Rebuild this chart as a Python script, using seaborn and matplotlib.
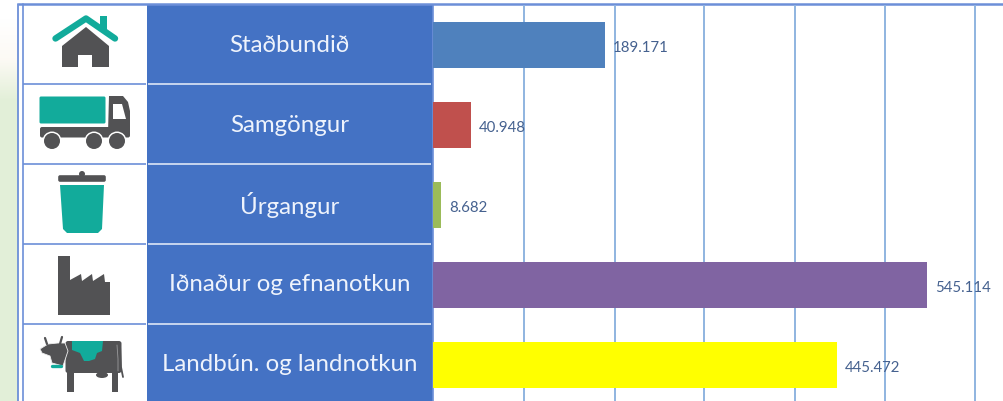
# plot.py - losun eftir flokkum, bars with icon table on the left
import numpy as np
import pandas as pd
import seaborn as sns
import matplotlib.pyplot as plt
from matplotlib.patches import Polygon, Rectangle, Circle, Ellipse, FancyBboxPatch

categories = ['Staðbundið', 'Samgöngur', 'Úrgangur', 'Iðnaður og efnanotkun', 'Landbún. og landnotkun']
values = [189.171, 40.948, 8.682, 545.114, 445.472]
bar_colors = ['#4f81bd', '#c0504d', '#9bbb59', '#8064a2', '#ffff00']
grid_ticks = [100, 200, 299, 399, 498.5, 598]

TEAL = '#12ab9b'
GRAY = '#525254'
BLUE = '#4472c4'
FRAME = '#6c8fd8'
GRID = '#8fb4e0'

sns.set_theme(style='white')
plt.rcParams['font.family'] = ['Lato', 'DejaVu Sans']

fig = plt.figure(figsize=(10.04, 4.02), dpi=100)

# overlay in pixel coordinates for the table and icons
bg = fig.add_axes([0, 0, 1, 1])
bg.axis('off')

# pale green strip on the left, fades out at the top
green = [0.89, 0.94, 0.85]
strip = np.array([[1, 1, 1], [0.99, 0.98, 0.96], green, green, green,
                  green, green, green, green, green])
bg.imshow(strip[:, None, :], extent=[0, 18, 402, 0], aspect='auto', interpolation='bilinear')
bg.set_xlim(0, 1004)
bg.set_ylim(402, 0)

# table
bg.add_patch(Rectangle((147, 6), 286, 396, color=BLUE, lw=0))
bg.plot([18, 1004], [5, 5], color=FRAME, lw=1.8, solid_capstyle='butt')
bg.plot([18.5, 18.5], [5, 402], color=FRAME, lw=1.3)
bg.plot([22.7, 22.7], [5, 402], color=FRAME, lw=1.2)
row_h = 80
for i in range(1, 5):
    y = 4.5 + row_h * i
    bg.plot([23, 146], [y, y], color=FRAME, lw=1.2, solid_capstyle='butt')
    bg.plot([148, 431], [y, y], color='#dde6f6', lw=1.2, solid_capstyle='butt')
for i, name in enumerate(categories):
    bg.text(289.5, 45 + row_h * i, name, color='#eef3fc', fontsize=17.3, ha='center', va='center')

# house
bg.add_patch(Polygon([(62, 68), (62, 47), (86, 28), (109, 47), (109, 68), (92, 68), (92, 56), (78, 56), (78, 68)],
                     closed=True, color=GRAY, lw=0))
bg.plot([55.5, 86, 115], [39.5, 19.5, 39.5], color=TEAL, lw=4.6, solid_capstyle='round', solid_joinstyle='round')
bg.add_patch(Rectangle((100, 17), 7, 14, color=TEAL, lw=0))

# truck
bg.add_patch(FancyBboxPatch((41, 99), 63, 24, boxstyle='round,pad=1.5', color=TEAL, lw=0))
bg.add_patch(Polygon([(109, 97), (123, 97), (128, 103), (130, 112), (130, 134), (108, 134)], closed=True, color=GRAY, lw=0))
bg.add_patch(Polygon([(113, 105), (122, 105), (126, 120), (113, 120)], closed=True, color='white', lw=0))
bg.add_patch(FancyBboxPatch((42, 130), 86, 6.5, boxstyle='round,pad=2', color=GRAY, lw=0))
for cx in [52, 94, 117]:
    bg.add_patch(Circle((cx, 142), 9.5, color='white', lw=0))
    bg.add_patch(Circle((cx, 142), 8, color=GRAY, lw=0))

# bin
bg.add_patch(FancyBboxPatch((60, 178), 44, 3, boxstyle='round,pad=1.8', color=GRAY, lw=0))
bg.add_patch(Circle((82, 175), 3, color=GRAY, lw=0))
bg.add_patch(Polygon([(60, 186), (104, 186), (102, 230), (98, 234), (67, 234), (63, 230)], closed=True, color=TEAL, lw=0))

# factory
bg.add_patch(Polygon([(58, 316), (58, 257), (70, 257), (70, 281), (81, 275), (82, 282), (92, 275), (93, 282),
                      (104, 275), (105, 283), (110, 283), (110, 316)], closed=True, color=GRAY, lw=0))

# cow
bg.add_patch(FancyBboxPatch((68, 344.5), 51, 27, boxstyle='round,pad=2.5', color=GRAY, lw=0))
bg.add_patch(Rectangle((67, 365), 7, 28, color=GRAY, lw=0))
bg.add_patch(Rectangle((112, 365), 6, 28, color=GRAY, lw=0))
bg.add_patch(Ellipse((102, 376), 12, 6, color=GRAY, lw=0))
bg.plot([120, 121, 123], [346, 368, 378], color=GRAY, lw=1.3)
bg.plot([117, 118, 118], [346, 360, 372], color='#9a9a9c', lw=0.6)
bg.add_patch(Polygon([(65, 344), (68, 352), (63, 367), (52, 364), (50, 357), (42, 354), (40, 350), (48, 345), (58, 344)],
                     closed=True, facecolor=GRAY, edgecolor='#eeeeee', lw=0.6))
bg.plot([47, 45], [345, 339], color=GRAY, lw=1.6)
bg.plot([60, 62], [345, 338], color=GRAY, lw=1.6)
bg.plot([52.5, 61], [367, 367], color=TEAL, lw=2.4, solid_capstyle='round')
bg.add_patch(Polygon([(72, 342), (103, 342), (102, 352), (97, 354), (95, 360), (89, 362), (84, 362), (80, 354), (72, 351)],
                     closed=True, color=TEAL, lw=0))

# bar chart
df = pd.DataFrame({'category': categories, 'value': values})
ax = fig.add_axes([433.5 / 1004, 0, 570.5 / 1004, 396 / 402])
ax.patch.set_alpha(0)
sns.barplot(data=df, y='category', x='value', hue='category', palette=bar_colors,
            legend=False, width=46.5 / 80, saturation=1, linewidth=0, ax=ax, zorder=3)
ax.set_xlim(0, 570.5 / 0.905)
ax.set_ylim(396 / 80 - 0.5, -0.5)
ax.set_xticks(grid_ticks)
ax.set_xlabel('')
ax.set_ylabel('')
ax.tick_params(left=False, bottom=False, labelleft=False, labelbottom=False)
ax.grid(axis='x', color=GRID, lw=1.4)
ax.set_axisbelow(True)
sns.despine(ax=ax, top=True, right=True, bottom=True)
ax.spines['left'].set_color(FRAME)
ax.spines['left'].set_linewidth(1.2)
for container in ax.containers:
    labels = ax.bar_label(container, fmt='%.3f', padding=6, color='#45618f', fontsize=10.8, zorder=4)
    for t in labels:
        t.xyann = (t.xyann[0], t.xyann[1] - 1.2)

fig.savefig('out.png', dpi=100)
